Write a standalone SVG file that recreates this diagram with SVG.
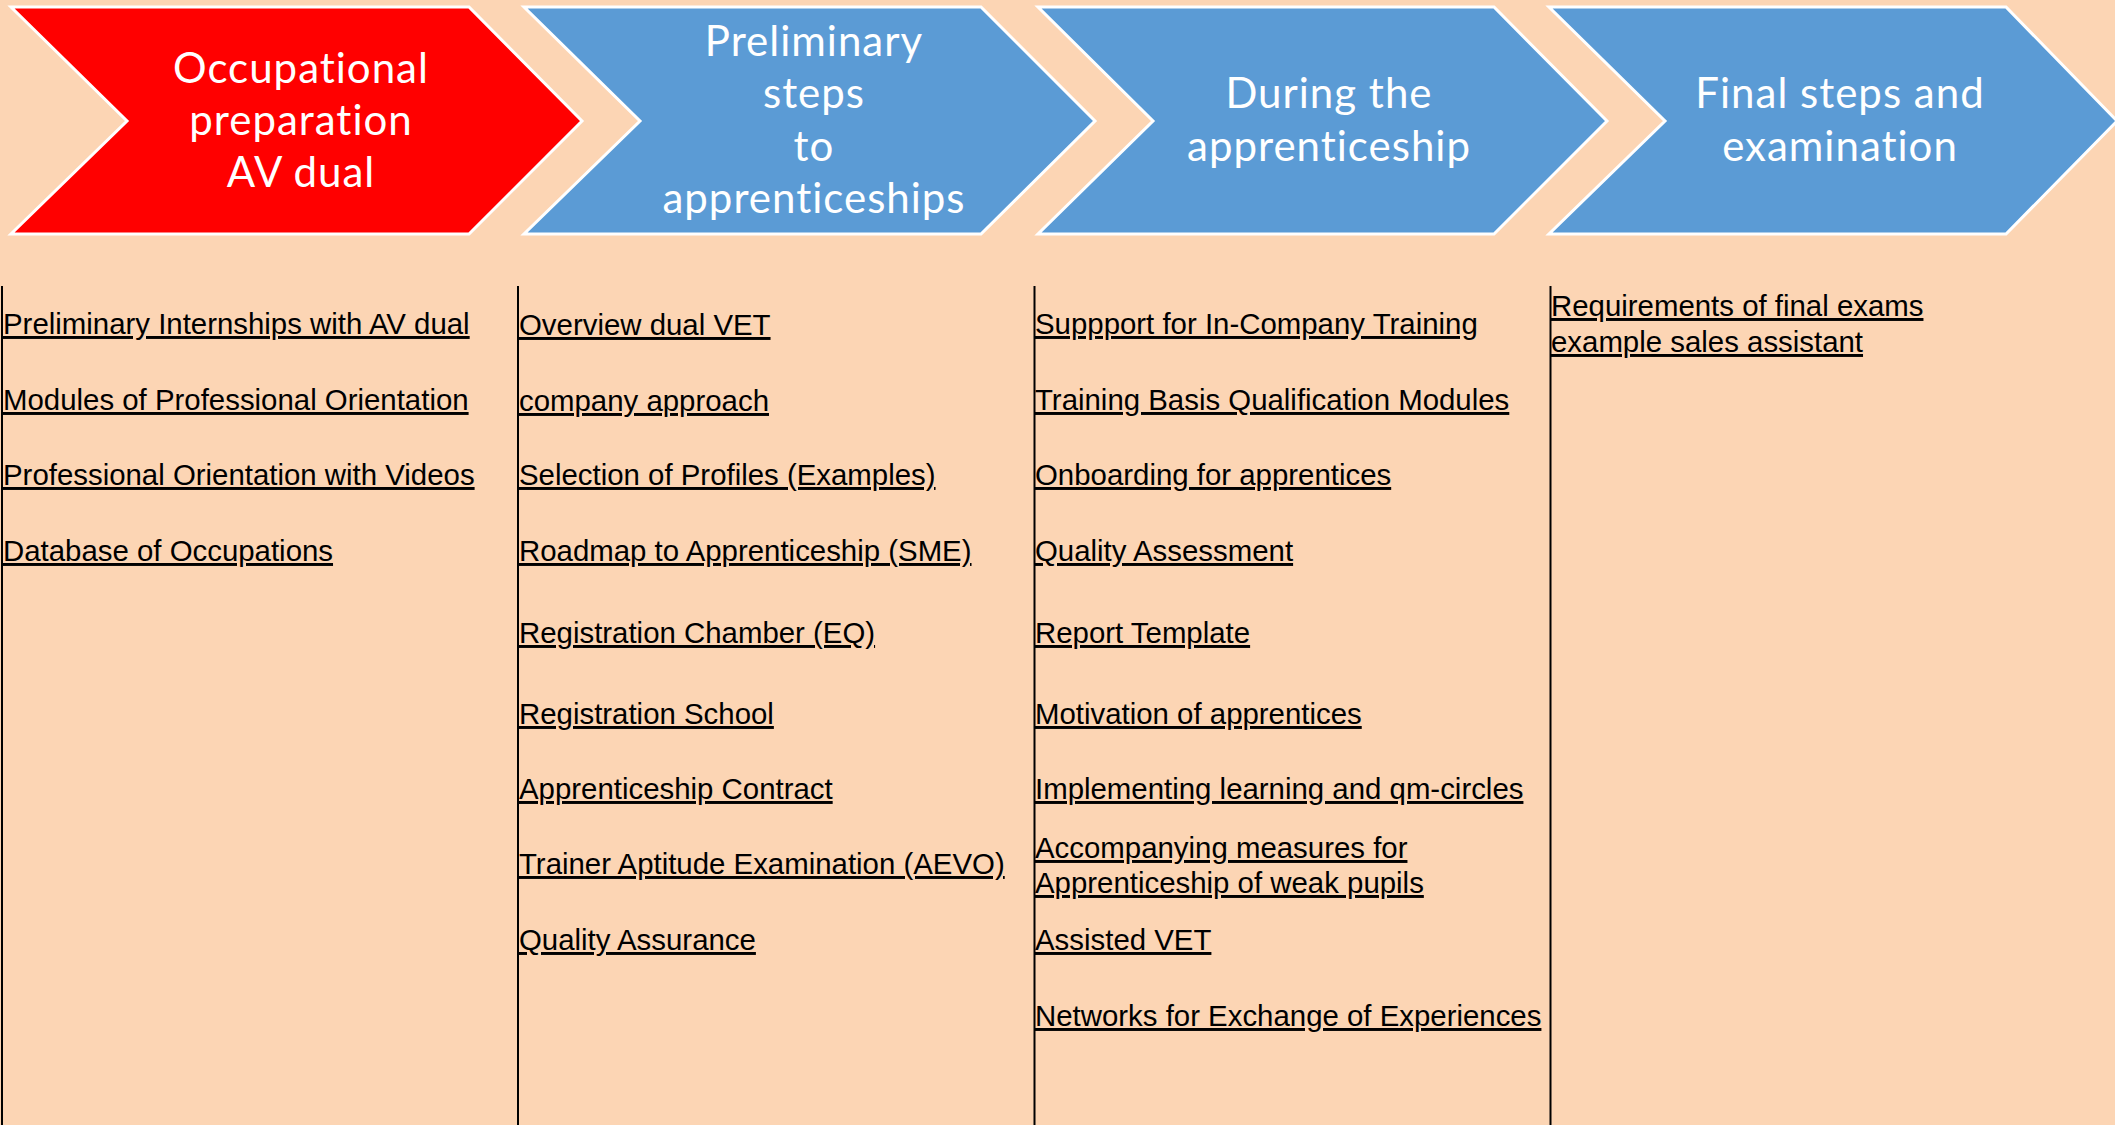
<svg xmlns="http://www.w3.org/2000/svg" width="2115" height="1125" viewBox="0 0 2115 1125">
<style>
.bg{fill:#FCD5B4}
.chev{stroke:#FFFFFF;stroke-width:3;stroke-linejoin:miter}
.red{fill:#FF0000}
.blue{fill:#5B9BD5}
.head{font-family:Lato,"Open Sans","Noto Sans",sans-serif;font-size:42px;letter-spacing:1px;fill:#FFFFFF;text-anchor:middle}
.item{font-family:"Liberation Sans",Arial,sans-serif;font-size:29.4px;fill:#000000;text-decoration:underline}
.sep{stroke:#000000;stroke-width:2;fill:none}
</style>
<rect class="bg" x="0" y="0" width="2115" height="1125"/>
<g id="step1">
<polygon class="chev red" points="11,7 469,7 582,121 469,234 11,234 127,121"/>
<text class="head"><tspan x="301" y="83">Occupational</tspan><tspan x="301" y="135">preparation</tspan><tspan x="301" y="187">AV dual</tspan></text>
</g>
<g id="step2">
<polygon class="chev blue" points="524,7 981,7 1095,121 981,234 524,234 640,121"/>
<text class="head"><tspan x="814" y="56">Preliminary</tspan><tspan x="814" y="108">steps</tspan><tspan x="814" y="161">to</tspan><tspan x="814" y="213">apprenticeships</tspan></text>
</g>
<g id="step3">
<polygon class="chev blue" points="1038,7 1494,7 1607,121 1494,234 1038,234 1153,121"/>
<text class="head"><tspan x="1329" y="108">During the</tspan><tspan x="1329" y="161">apprenticeship</tspan></text>
</g>
<g id="step4">
<polygon class="chev blue" points="1549,7 2006,7 2117,121 2006,234 1549,234 1665,121"/>
<text class="head"><tspan x="1840" y="108">Final steps and</tspan><tspan x="1840" y="161">examination</tspan></text>
</g>
<g id="connectors">
<line class="sep" x1="2" y1="286" x2="2" y2="1125"/>
<line class="sep" x1="518" y1="286" x2="518" y2="1125"/>
<line class="sep" x1="1034.5" y1="286" x2="1034.5" y2="1125"/>
<line class="sep" x1="1550.5" y1="286" x2="1550.5" y2="1125"/>
</g>
<g id="col1">
<text class="item" x="3" y="334">Preliminary Internships with AV dual</text>
<text class="item" x="3" y="410">Modules of Professional Orientation</text>
<text class="item" x="3" y="485">Professional Orientation with Videos</text>
<text class="item" x="3" y="561">Database of Occupations</text>
</g>
<g id="col2">
<text class="item" x="519" y="335">Overview dual VET</text>
<text class="item" x="519" y="411">company approach</text>
<text class="item" x="519" y="485">Selection of Profiles (Examples)</text>
<text class="item" x="519" y="561">Roadmap to Apprenticeship (SME)</text>
<text class="item" x="519" y="643">Registration Chamber (EQ)</text>
<text class="item" x="519" y="724">Registration School</text>
<text class="item" x="519" y="799">Apprenticeship Contract</text>
<text class="item" x="519" y="874">Trainer Aptitude Examination (AEVO)</text>
<text class="item" x="519" y="950">Quality Assurance</text>
</g>
<g id="col3">
<text class="item" x="1035" y="334">Suppport for In-Company Training</text>
<text class="item" x="1035" y="410">Training Basis Qualification Modules</text>
<text class="item" x="1035" y="485">Onboarding for apprentices</text>
<text class="item" x="1035" y="561">Quality Assessment</text>
<text class="item" x="1035" y="643">Report Template</text>
<text class="item" x="1035" y="724">Motivation of apprentices</text>
<text class="item" x="1035" y="799">Implementing learning and qm-circles</text>
<text class="item" x="1035" y="858">Accompanying measures for</text>
<text class="item" x="1035" y="893">Apprenticeship of weak pupils</text>
<text class="item" x="1035" y="950">Assisted VET</text>
<text class="item" x="1035" y="1026">Networks for Exchange of Experiences</text>
</g>
<g id="col4">
<text class="item" x="1551" y="316">Requirements of final exams</text>
<text class="item" x="1551" y="352">example sales assistant</text>
</g>
</svg>
